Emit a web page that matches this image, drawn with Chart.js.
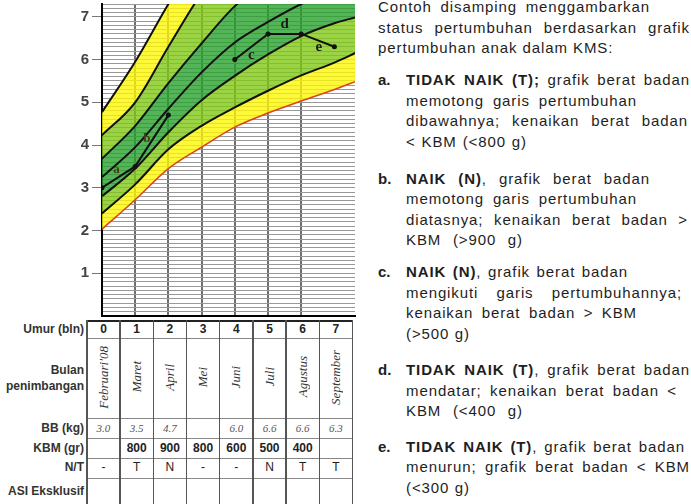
<!DOCTYPE html>
<html><head><meta charset="utf-8">
<script src="https://cdn.jsdelivr.net/npm/chart.js@4.4.1/dist/chart.umd.min.js"></script>
<style>
html,body{margin:0;padding:0;background:#fff;width:691px;height:504px;overflow:hidden;}
#wrap{position:relative;width:691px;height:504px;font-family:"Liberation Sans",Arial,sans-serif;color:#1a1a1a;}
#cv{position:absolute;left:0;top:0;}
.ln{position:absolute;white-space:nowrap;font-size:15px;letter-spacing:0.9px;line-height:20px;height:20px;text-align:justify;text-align-last:justify;color:#1e1e1e;}
.lb{position:absolute;white-space:nowrap;font-size:15px;line-height:20px;height:20px;font-weight:bold;color:#1e1e1e;}
.hl{position:absolute;background:#777;}
.vl{position:absolute;background:#555;}
.cell{position:absolute;text-align:center;white-space:nowrap;}
.rl{position:absolute;right:607px;text-align:right;white-space:nowrap;font-size:12px;font-weight:bold;color:#333;}
.mon{position:absolute;font-family:"Liberation Serif",serif;font-style:italic;font-size:13px;color:#333;writing-mode:vertical-rl;transform:rotate(180deg);white-space:nowrap;}
</style></head><body>
<div id="wrap">
<canvas id="cv" width="360" height="320"></canvas>
</div>
<script>
// ---- data ----
const curveMonths = [0, 1, 2, 3, 4, 5, 6, 7, 7.65];
const curve1 = [4.77, 5.95, 7.30, 8.55, 9.50, 10.2, 10.8, 11.3, 11.6];
const curve2 = [4.23, 5.00, 6.30, 7.55, 8.50, 9.20, 9.80, 10.3, 10.6];
const curve3 = [3.68, 4.45, 5.45, 6.38, 7.25, 7.85, 8.35, 8.80, 9.05];
const curve4 = [3.25, 3.95, 4.85, 5.70, 6.40, 6.88, 7.30, 7.62, 7.80];
const curve5 = [2.80, 3.45, 4.30, 5.05, 5.62, 6.12, 6.55, 6.85, 6.99];
const curve6 = [2.40, 3.08, 3.90, 4.45, 4.88, 5.27, 5.63, 5.93, 6.16];
const curveRed = [2.03, 2.72, 3.45, 3.95, 4.42, 4.75, 5.03, 5.30, 5.49];

const months = [0, 1, 2, 3, 4, 5, 6, 7];
const weights = [3.0, 3.5, 4.7, null, 6.0, 6.6, 6.6, 6.3];
const segLabels = ["a", "b", "c", "d", "e"];
const segStart = [0, 1, 4, 5, 6];

const bulan = ["Februari'08", "Maret", "April", "Mei", "Juni", "Juli", "Agustus", "September"];
const bbText = ["3.0", "3.5", "4.7", "", "6.0", "6.6", "6.6", "6.3"];
const kbm = ["", "800", "900", "800", "600", "500", "400", ""];
const nt = ["-", "T", "N", "-", "-", "N", "T", "T"];
const rowLabels = ["Umur (bln)", "Bulan\npenimbangan", "BB (kg)", "KBM (gr)", "N/T", "ASI Eksklusif"];
const yTickStep = 0.1;

// ---- chart ----
const isInt = v => Math.abs(v - Math.round(v)) < 1e-6;
const pts = vals => curveMonths.map((m, i) => ({x: m, y: vals[i]}));
const YEL = 'rgba(252,246,0,0.78)', LG = 'rgba(125,200,15,0.78)', DG = 'rgba(35,160,40,0.78)';
const curveDs = (vals, fill, bg, col, w) => ({
  data: pts(vals), borderColor: col || '#111', borderWidth: w || 2, pointRadius: 0,
  fill: fill, backgroundColor: bg, cubicInterpolationMode: 'monotone', order: 2
});

const labelPlugin = {
  id: 'segLabels',
  afterDatasetsDraw(chart) {
    const {ctx, scales: {x, y}} = chart;
    const offs = [[-2, -7], [-5, -2], [0, 8], [0, -10], [1, 7]];
    ctx.save();
    ctx.textAlign = 'center'; ctx.textBaseline = 'middle';
    segLabels.forEach((t, i) => {
      const s = segStart[i];
      const mx = (x.getPixelForValue(months[s]) + x.getPixelForValue(months[s + 1])) / 2;
      const my = (y.getPixelForValue(weights[s]) + y.getPixelForValue(weights[s + 1])) / 2;
      ctx.font = (i < 2 ? 'bold 13px' : 'bold 15px') + ' "Liberation Serif", serif';
      ctx.fillStyle = i < 2 ? '#4a3a18' : '#1a1a1a';
      ctx.fillText(t, mx + offs[i][0], my + offs[i][1]);
    });
    ctx.restore();
  }
};

const chart = new Chart(document.getElementById('cv'), {
  type: 'line',
  data: {
    datasets: [
      {data: months.map((m, i) => ({x: m, y: weights[i]})), borderColor: '#111', borderWidth: 2,
       pointRadius: 2.5, pointBackgroundColor: '#111', pointBorderWidth: 0, spanGaps: false, fill: false, order: 0},
      curveDs(curve1, '+1', YEL),
      curveDs(curve2, '+1', LG),
      curveDs(curve3, '+1', DG),
      curveDs(curve4, '+1', DG),
      curveDs(curve5, '+1', LG),
      curveDs(curve6, '+1', YEL),
      curveDs(curveRed, false, 'transparent', '#d9461c', 1.6)
    ]
  },
  options: {
    responsive: false, devicePixelRatio: 1, animation: false,
    layout: {padding: {left: 0, top: 3, right: 5, bottom: 3}},
    plugins: {legend: {display: false}, tooltip: {enabled: false}, filler: {drawTime: 'beforeDatasetsDraw'}},
    scales: {
      x: {type: 'linear', min: 0, max: 7.62,
          ticks: {stepSize: 1, display: false},
          grid: {color: c => isInt(c.tick.value) && c.tick.value > 0 ? '#6e6e6e' : 'transparent', lineWidth: 2, drawTicks: false},
          border: {color: '#000', width: 2},
          afterFit: s => { s.height = 0; s.paddingLeft = 0; s.paddingRight = 0; }},
      y: {type: 'linear', min: 0, max: 7.3,
          ticks: {stepSize: yTickStep, autoSkip: false, padding: 3,
                  callback: v => isInt(v) && v > 0 ? String(Math.round(v)) : '',
                  font: {family: '"Liberation Sans", Arial', size: 15, weight: 'bold'}, color: '#444'},
          grid: {color: '#999', lineWidth: 1, tickLength: 10,
                 tickColor: c => isInt(c.tick.value) && c.tick.value > 0 ? '#777' : 'transparent'},
          border: {color: '#000', width: 2},
          afterFit: s => { s.width = 102; s.paddingTop = 0; s.paddingBottom = 0; }}
    }
  },
  plugins: [labelPlugin]
});

// ---- table under chart ----
const wrap = document.getElementById('wrap');
const add = (cls, css, html) => { const d = document.createElement('div'); d.className = cls; Object.assign(d.style, css); if (html !== undefined) d.innerHTML = html; wrap.appendChild(d); return d; };
const xs = chart.scales.x;
const colW = xs.getPixelForValue(1) - xs.getPixelForValue(0);
const cx = i => xs.getPixelForValue(i) + 1.5;
const tLeft = cx(0) - colW / 2, tRight = cx(7) + colW / 2;
const rowY = [320, 338, 418, 438, 458, 478, 504];
rowY.slice(0, 6).forEach((yy, k) => add('hl', {left: tLeft + 'px', top: yy + 'px', width: (tRight - tLeft) + 'px', height: (k === 0 ? 1.5 : 1) + 'px', background: k === 0 ? '#222' : '#888'}));
for (let i = 0; i <= 8; i++) add('vl', {left: (tLeft + i * colW - 0.75) + 'px', top: '320px', width: '1.5px', height: '184px'});
const rowC = [329, 378, 428, 448, 467, 491];
rowLabels.forEach((t, k) => {
  if (k === 1) {
    add('rl', {top: (371 - 8) + 'px', lineHeight: '14px'}, 'Bulan');
    add('rl', {top: (386 - 7) + 'px', lineHeight: '14px'}, 'penimbangan');
  } else add('rl', {top: (rowC[k] - 7) + 'px', lineHeight: '14px'}, t);
});
months.forEach((m, i) => {
  const L = (cx(i) - colW / 2) + 'px', W = colW + 'px';
  add('cell', {left: L, width: W, top: '322px', lineHeight: '14px', fontSize: '12px', fontWeight: 'bold', color: '#222'}, String(m));
  const mon = add('mon', {}, bulan[i]);
  const r = mon.getBoundingClientRect();
  mon.style.left = (cx(i) - r.width / 2) + 'px'; mon.style.top = (377 - r.height / 2) + 'px';
  add('cell', {left: L, width: W, top: '421px', lineHeight: '14px', fontSize: '11px', fontStyle: 'italic', fontFamily: '"Liberation Serif",serif', color: '#555'}, bbText[i]);
  add('cell', {left: L, width: W, top: '441px', lineHeight: '14px', fontSize: '12px', fontWeight: 'bold', color: '#222'}, kbm[i]);
  add('cell', {left: L, width: W, top: '460px', lineHeight: '14px', fontSize: '12px', color: '#222'}, nt[i]);
});

// ---- right-hand text ----
const textLines = [
  [7, 378, 650, 'Contoh disamping menggambarkan'],
  [27.5, 378, 690, 'status pertumbuhan berdasarkan grafik'],
  [48, 378, 567, 'pertumbuhan anak dalam KMS:'],
  [80, 406, 690, '<b>TIDAK NAIK (T);</b> grafik berat badan', 'a.'],
  [100.5, 406, 637, 'memotong garis pertumbuhan'],
  [121, 406, 688, 'dibawahnya; kenaikan berat badan'],
  [141.5, 406, 527, '&lt; KBM (&lt;800 g)'],
  [178.5, 406, 650, '<b>NAIK (N)</b>, grafik berat badan', 'b.'],
  [199, 406, 637, 'memotong garis pertumbuhan'],
  [219.5, 406, 688, 'diatasnya; kenaikan berat badan &gt;'],
  [240, 406, 523, 'KBM (&gt;900 g)'],
  [271.5, 406, 628, '<b>NAIK (N)</b>, grafik berat badan', 'c.'],
  [292.5, 406, 682, 'mengikuti garis pertumbuhannya;'],
  [313, 406, 637, 'kenaikan berat badan &gt; KBM'],
  [334, 406, 470, '(&gt;500 g)'],
  [370, 406, 690, '<b>TIDAK NAIK (T)</b>, grafik berat badan', 'd.'],
  [390.5, 406, 677, 'mendatar; kenaikan berat badan &lt;'],
  [411, 406, 523, 'KBM (&lt;400 g)'],
  [446.5, 406, 685, '<b>TIDAK NAIK (T)</b>, grafik berat badan', 'e.'],
  [467, 406, 690, 'menurun; grafik berat badan &lt; KBM'],
  [487.5, 406, 470, '(&lt;300 g)']
];
textLines.forEach(([yc, x0, x1, html, bullet]) => {
  add('ln', {left: x0 + 'px', top: (yc - 10) + 'px', width: (x1 - x0) + 'px'}, html);
  if (bullet) add('lb', {left: '378px', top: (yc - 10) + 'px'}, bullet);
});
</script>
</body></html>
